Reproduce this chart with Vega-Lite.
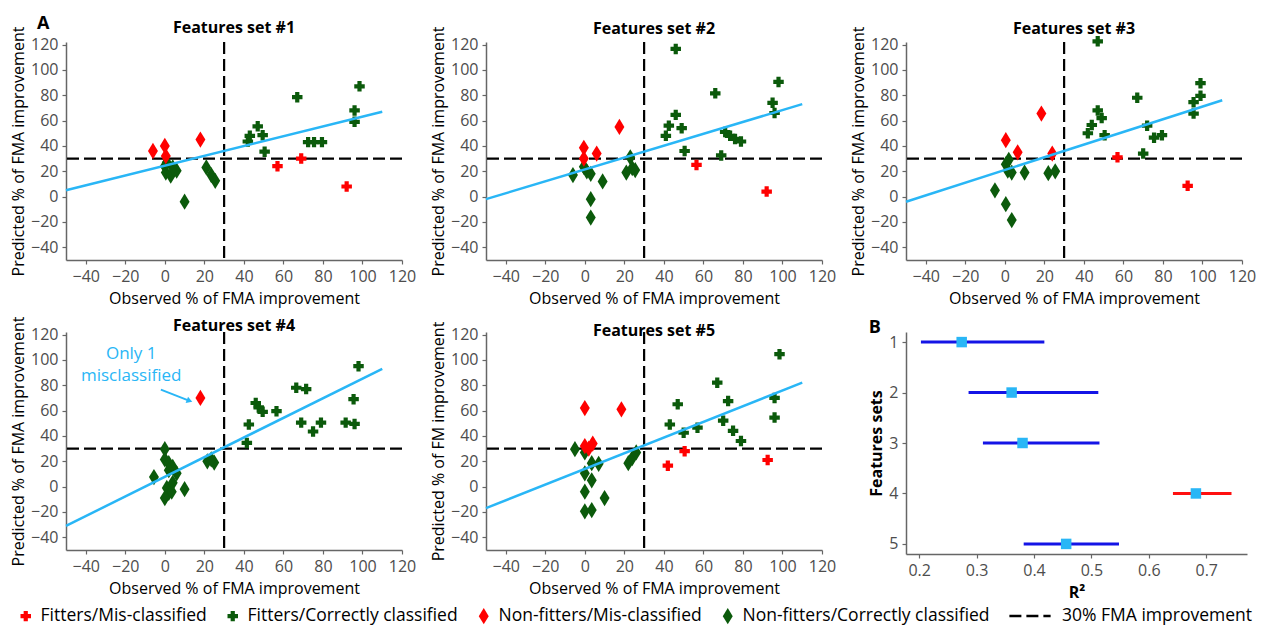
{
  "$schema": "https://vega.github.io/schema/vega-lite/v6.json",
  "padding": {"left": 10, "top": 15, "right": 10, "bottom": 0},
  "datasets": {
    "ref": [{"v": 30, "lab": "30% FMA improvement"}],
    "lbl": [{"x": -61.5, "y": 136, "t": "A"}],
    "note": [{"x": -17, "y": 105, "t": "Only 1"}, {"x": -17, "y": 87, "t": "misclassified"}],
    "arrow": [{"x": -2, "y": 76.5, "x2": 12.5, "y2": 67.7}],
    "fit": [
      {"p": 1, "x": -50, "y": 5}, {"p": 1, "x": 110, "y": 67},
      {"p": 2, "x": -50, "y": -2}, {"p": 2, "x": 110, "y": 73},
      {"p": 3, "x": -50, "y": -4}, {"p": 3, "x": 110, "y": 76},
      {"p": 4, "x": -50, "y": -31}, {"p": 4, "x": 110, "y": 93},
      {"p": 5, "x": -50, "y": -17}, {"p": 5, "x": 110, "y": 82}
    ],
    "forest": [
      {"set": 1, "r2": 0.274, "lo": 0.203, "hi": 0.418},
      {"set": 2, "r2": 0.361, "lo": 0.286, "hi": 0.512},
      {"set": 3, "r2": 0.380, "lo": 0.311, "hi": 0.514},
      {"set": 4, "r2": 0.682, "lo": 0.642, "hi": 0.744},
      {"set": 5, "r2": 0.456, "lo": 0.382, "hi": 0.548}
    ],
    "pts": [
      {"p": 1, "x": 0, "y": 24, "c": "Non-fitters/Correctly classified"},
      {"p": 1, "x": 0.5, "y": 19, "c": "Non-fitters/Correctly classified"},
      {"p": 1, "x": 3, "y": 16.5, "c": "Non-fitters/Correctly classified"},
      {"p": 1, "x": 6, "y": 20.5, "c": "Non-fitters/Correctly classified"},
      {"p": 1, "x": 4, "y": 23, "c": "Non-fitters/Correctly classified"},
      {"p": 1, "x": 1, "y": 27, "c": "Non-fitters/Correctly classified"},
      {"p": 1, "x": 10, "y": -4, "c": "Non-fitters/Correctly classified"},
      {"p": 1, "x": 21, "y": 23, "c": "Non-fitters/Correctly classified"},
      {"p": 1, "x": 23.5, "y": 17, "c": "Non-fitters/Correctly classified"},
      {"p": 1, "x": 25.5, "y": 12.5, "c": "Non-fitters/Correctly classified"},
      {"p": 1, "x": 67, "y": 78.5, "c": "Fitters/Correctly classified"},
      {"p": 1, "x": 98.5, "y": 87, "c": "Fitters/Correctly classified"},
      {"p": 1, "x": 96, "y": 68, "c": "Fitters/Correctly classified"},
      {"p": 1, "x": 96, "y": 59, "c": "Fitters/Correctly classified"},
      {"p": 1, "x": 47, "y": 55.5, "c": "Fitters/Correctly classified"},
      {"p": 1, "x": 43, "y": 48, "c": "Fitters/Correctly classified"},
      {"p": 1, "x": 42, "y": 43.5, "c": "Fitters/Correctly classified"},
      {"p": 1, "x": 49.5, "y": 48.5, "c": "Fitters/Correctly classified"},
      {"p": 1, "x": 50.5, "y": 35.5, "c": "Fitters/Correctly classified"},
      {"p": 1, "x": 72.5, "y": 43, "c": "Fitters/Correctly classified"},
      {"p": 1, "x": 75.5, "y": 43, "c": "Fitters/Correctly classified"},
      {"p": 1, "x": 79.5, "y": 43, "c": "Fitters/Correctly classified"},
      {"p": 1, "x": -6, "y": 36, "c": "Non-fitters/Mis-classified"},
      {"p": 1, "x": 0, "y": 40, "c": "Non-fitters/Mis-classified"},
      {"p": 1, "x": 0.5, "y": 32, "c": "Non-fitters/Mis-classified"},
      {"p": 1, "x": 18, "y": 45, "c": "Non-fitters/Mis-classified"},
      {"p": 1, "x": 57, "y": 24, "c": "Fitters/Mis-classified"},
      {"p": 1, "x": 69, "y": 30, "c": "Fitters/Mis-classified"},
      {"p": 1, "x": 92, "y": 8, "c": "Fitters/Mis-classified"},

      {"p": 2, "x": -6, "y": 17, "c": "Non-fitters/Correctly classified"},
      {"p": 2, "x": -0.5, "y": 23.5, "c": "Non-fitters/Correctly classified"},
      {"p": 2, "x": 1, "y": 20, "c": "Non-fitters/Correctly classified"},
      {"p": 2, "x": 3, "y": 18, "c": "Non-fitters/Correctly classified"},
      {"p": 2, "x": 9, "y": 12, "c": "Non-fitters/Correctly classified"},
      {"p": 2, "x": 3, "y": -2, "c": "Non-fitters/Correctly classified"},
      {"p": 2, "x": 3, "y": -16.5, "c": "Non-fitters/Correctly classified"},
      {"p": 2, "x": 21, "y": 19, "c": "Non-fitters/Correctly classified"},
      {"p": 2, "x": 23, "y": 31, "c": "Non-fitters/Correctly classified"},
      {"p": 2, "x": 24, "y": 22.5, "c": "Non-fitters/Correctly classified"},
      {"p": 2, "x": 25.5, "y": 21, "c": "Non-fitters/Correctly classified"},
      {"p": 2, "x": 46, "y": 116.5, "c": "Fitters/Correctly classified"},
      {"p": 2, "x": 66, "y": 81.5, "c": "Fitters/Correctly classified"},
      {"p": 2, "x": 98, "y": 90.5, "c": "Fitters/Correctly classified"},
      {"p": 2, "x": 95, "y": 74, "c": "Fitters/Correctly classified"},
      {"p": 2, "x": 96, "y": 66, "c": "Fitters/Correctly classified"},
      {"p": 2, "x": 46, "y": 64.5, "c": "Fitters/Correctly classified"},
      {"p": 2, "x": 42.5, "y": 56, "c": "Fitters/Correctly classified"},
      {"p": 2, "x": 41, "y": 48, "c": "Fitters/Correctly classified"},
      {"p": 2, "x": 49, "y": 54, "c": "Fitters/Correctly classified"},
      {"p": 2, "x": 50.5, "y": 36, "c": "Fitters/Correctly classified"},
      {"p": 2, "x": 69, "y": 32.5, "c": "Fitters/Correctly classified"},
      {"p": 2, "x": 71, "y": 51, "c": "Fitters/Correctly classified"},
      {"p": 2, "x": 73.5, "y": 48, "c": "Fitters/Correctly classified"},
      {"p": 2, "x": 76, "y": 45.5, "c": "Fitters/Correctly classified"},
      {"p": 2, "x": 79, "y": 43.5, "c": "Fitters/Correctly classified"},
      {"p": 2, "x": -0.5, "y": 38.5, "c": "Non-fitters/Mis-classified"},
      {"p": 2, "x": -0.5, "y": 30, "c": "Non-fitters/Mis-classified"},
      {"p": 2, "x": 6, "y": 34, "c": "Non-fitters/Mis-classified"},
      {"p": 2, "x": 17.5, "y": 55, "c": "Non-fitters/Mis-classified"},
      {"p": 2, "x": 56.5, "y": 25, "c": "Fitters/Mis-classified"},
      {"p": 2, "x": 92, "y": 4, "c": "Fitters/Mis-classified"},

      {"p": 3, "x": -5, "y": 5, "c": "Non-fitters/Correctly classified"},
      {"p": 3, "x": 0.5, "y": -6, "c": "Non-fitters/Correctly classified"},
      {"p": 3, "x": 3.5, "y": -18.5, "c": "Non-fitters/Correctly classified"},
      {"p": 3, "x": 0.5, "y": 25.5, "c": "Non-fitters/Correctly classified"},
      {"p": 3, "x": 1.5, "y": 20.5, "c": "Non-fitters/Correctly classified"},
      {"p": 3, "x": 3.5, "y": 19, "c": "Non-fitters/Correctly classified"},
      {"p": 3, "x": 10, "y": 19, "c": "Non-fitters/Correctly classified"},
      {"p": 3, "x": 22, "y": 18.5, "c": "Non-fitters/Correctly classified"},
      {"p": 3, "x": 25.5, "y": 20, "c": "Non-fitters/Correctly classified"},
      {"p": 3, "x": 2, "y": 29, "c": "Non-fitters/Correctly classified"},
      {"p": 3, "x": 47, "y": 122.5, "c": "Fitters/Correctly classified"},
      {"p": 3, "x": 67, "y": 78, "c": "Fitters/Correctly classified"},
      {"p": 3, "x": 99, "y": 89.5, "c": "Fitters/Correctly classified"},
      {"p": 3, "x": 99, "y": 79.5, "c": "Fitters/Correctly classified"},
      {"p": 3, "x": 95.5, "y": 74.5, "c": "Fitters/Correctly classified"},
      {"p": 3, "x": 95.5, "y": 65.5, "c": "Fitters/Correctly classified"},
      {"p": 3, "x": 47, "y": 68, "c": "Fitters/Correctly classified"},
      {"p": 3, "x": 49, "y": 62, "c": "Fitters/Correctly classified"},
      {"p": 3, "x": 44, "y": 56.5, "c": "Fitters/Correctly classified"},
      {"p": 3, "x": 42, "y": 50, "c": "Fitters/Correctly classified"},
      {"p": 3, "x": 50.5, "y": 48.5, "c": "Fitters/Correctly classified"},
      {"p": 3, "x": 72, "y": 56, "c": "Fitters/Correctly classified"},
      {"p": 3, "x": 75.5, "y": 46.5, "c": "Fitters/Correctly classified"},
      {"p": 3, "x": 79.5, "y": 48.5, "c": "Fitters/Correctly classified"},
      {"p": 3, "x": 70, "y": 34, "c": "Fitters/Correctly classified"},
      {"p": 3, "x": 0.5, "y": 44.5, "c": "Non-fitters/Mis-classified"},
      {"p": 3, "x": 6.5, "y": 35, "c": "Non-fitters/Mis-classified"},
      {"p": 3, "x": 18.5, "y": 65.5, "c": "Non-fitters/Mis-classified"},
      {"p": 3, "x": 24, "y": 34, "c": "Non-fitters/Mis-classified"},
      {"p": 3, "x": 57, "y": 31, "c": "Fitters/Mis-classified"},
      {"p": 3, "x": 92.5, "y": 8.5, "c": "Fitters/Mis-classified"},

      {"p": 4, "x": 0, "y": 29.5, "c": "Non-fitters/Correctly classified"},
      {"p": 4, "x": 0, "y": 21.5, "c": "Non-fitters/Correctly classified"},
      {"p": 4, "x": 2, "y": 18.5, "c": "Non-fitters/Correctly classified"},
      {"p": 4, "x": 4, "y": 15.5, "c": "Non-fitters/Correctly classified"},
      {"p": 4, "x": 6, "y": 10.5, "c": "Non-fitters/Correctly classified"},
      {"p": 4, "x": -5.5, "y": 7.5, "c": "Non-fitters/Correctly classified"},
      {"p": 4, "x": 1, "y": -1, "c": "Non-fitters/Correctly classified"},
      {"p": 4, "x": 2, "y": -5, "c": "Non-fitters/Correctly classified"},
      {"p": 4, "x": 0, "y": -9, "c": "Non-fitters/Correctly classified"},
      {"p": 4, "x": 3.5, "y": -4, "c": "Non-fitters/Correctly classified"},
      {"p": 4, "x": 4, "y": 3, "c": "Non-fitters/Correctly classified"},
      {"p": 4, "x": 10, "y": -2, "c": "Non-fitters/Correctly classified"},
      {"p": 4, "x": 21.5, "y": 20, "c": "Non-fitters/Correctly classified"},
      {"p": 4, "x": 25, "y": 19, "c": "Non-fitters/Correctly classified"},
      {"p": 4, "x": 23.5, "y": 21.5, "c": "Non-fitters/Correctly classified"},
      {"p": 4, "x": 2, "y": 13, "c": "Non-fitters/Correctly classified"},
      {"p": 4, "x": 98, "y": 95, "c": "Fitters/Correctly classified"},
      {"p": 4, "x": 66.5, "y": 78, "c": "Fitters/Correctly classified"},
      {"p": 4, "x": 71.5, "y": 77, "c": "Fitters/Correctly classified"},
      {"p": 4, "x": 95.5, "y": 69, "c": "Fitters/Correctly classified"},
      {"p": 4, "x": 46, "y": 66, "c": "Fitters/Correctly classified"},
      {"p": 4, "x": 47.5, "y": 62.5, "c": "Fitters/Correctly classified"},
      {"p": 4, "x": 49.5, "y": 59, "c": "Fitters/Correctly classified"},
      {"p": 4, "x": 56.5, "y": 59.5, "c": "Fitters/Correctly classified"},
      {"p": 4, "x": 42.5, "y": 49, "c": "Fitters/Correctly classified"},
      {"p": 4, "x": 41.5, "y": 34.5, "c": "Fitters/Correctly classified"},
      {"p": 4, "x": 69, "y": 50.5, "c": "Fitters/Correctly classified"},
      {"p": 4, "x": 75, "y": 43.5, "c": "Fitters/Correctly classified"},
      {"p": 4, "x": 79, "y": 50.5, "c": "Fitters/Correctly classified"},
      {"p": 4, "x": 91.5, "y": 50.5, "c": "Fitters/Correctly classified"},
      {"p": 4, "x": 96, "y": 49.5, "c": "Fitters/Correctly classified"},
      {"p": 4, "x": 18, "y": 70, "c": "Non-fitters/Mis-classified"},

      {"p": 5, "x": -5, "y": 29.5, "c": "Non-fitters/Correctly classified"},
      {"p": 5, "x": 0, "y": 27, "c": "Non-fitters/Correctly classified"},
      {"p": 5, "x": 3.5, "y": 18.5, "c": "Non-fitters/Correctly classified"},
      {"p": 5, "x": 7, "y": 18, "c": "Non-fitters/Correctly classified"},
      {"p": 5, "x": 0, "y": 10.5, "c": "Non-fitters/Correctly classified"},
      {"p": 5, "x": 3.5, "y": 5, "c": "Non-fitters/Correctly classified"},
      {"p": 5, "x": 0, "y": -4, "c": "Non-fitters/Correctly classified"},
      {"p": 5, "x": 10, "y": -9, "c": "Non-fitters/Correctly classified"},
      {"p": 5, "x": 0, "y": -19.5, "c": "Non-fitters/Correctly classified"},
      {"p": 5, "x": 3.5, "y": -18.5, "c": "Non-fitters/Correctly classified"},
      {"p": 5, "x": 22, "y": 18.5, "c": "Non-fitters/Correctly classified"},
      {"p": 5, "x": 24, "y": 22.5, "c": "Non-fitters/Correctly classified"},
      {"p": 5, "x": 26, "y": 27, "c": "Non-fitters/Correctly classified"},
      {"p": 5, "x": 98.5, "y": 104.5, "c": "Fitters/Correctly classified"},
      {"p": 5, "x": 67, "y": 82, "c": "Fitters/Correctly classified"},
      {"p": 5, "x": 72.5, "y": 67.5, "c": "Fitters/Correctly classified"},
      {"p": 5, "x": 96, "y": 70, "c": "Fitters/Correctly classified"},
      {"p": 5, "x": 96, "y": 54.5, "c": "Fitters/Correctly classified"},
      {"p": 5, "x": 47, "y": 65, "c": "Fitters/Correctly classified"},
      {"p": 5, "x": 43, "y": 49, "c": "Fitters/Correctly classified"},
      {"p": 5, "x": 50, "y": 42.5, "c": "Fitters/Correctly classified"},
      {"p": 5, "x": 57, "y": 46.5, "c": "Fitters/Correctly classified"},
      {"p": 5, "x": 70, "y": 52, "c": "Fitters/Correctly classified"},
      {"p": 5, "x": 75, "y": 44, "c": "Fitters/Correctly classified"},
      {"p": 5, "x": 79, "y": 36, "c": "Fitters/Correctly classified"},
      {"p": 5, "x": 0, "y": 62, "c": "Non-fitters/Mis-classified"},
      {"p": 5, "x": 18.5, "y": 61, "c": "Non-fitters/Mis-classified"},
      {"p": 5, "x": 0, "y": 32, "c": "Non-fitters/Mis-classified"},
      {"p": 5, "x": 4, "y": 34, "c": "Non-fitters/Mis-classified"},
      {"p": 5, "x": 2, "y": 30, "c": "Non-fitters/Mis-classified"},
      {"p": 5, "x": 42, "y": 16.5, "c": "Fitters/Mis-classified"},
      {"p": 5, "x": 50.5, "y": 28, "c": "Fitters/Mis-classified"},
      {"p": 5, "x": 92.5, "y": 21, "c": "Fitters/Mis-classified"}
    ]
  },
  "columns": 3,
  "bounds": "flush",
  "spacing": {"row": 72, "column": 84},
  "resolve": {"scale": {"color": "shared", "shape": "shared", "strokeDash": "shared"}, "legend": {"color": "shared", "shape": "shared", "strokeDash": "shared"}},
  "concat": [
    {
      "width": 336, "height": 218, "title": {"text": "Features set #1", "dy": 27},
      "layer": [
        {"data": {"name": "ref"}, "mark": {"type": "rule", "color": "black", "strokeWidth": 2.2, "strokeDash": [12, 5]},
         "encoding": {"x": {"field": "v", "type": "quantitative", "scale": {"domain": [-50, 120], "nice": false, "zero": false}, "axis": {"values": [-40, -20, 0, 20, 40, 60, 80, 100, 120], "title": "Observed % of FMA improvement"}}}},
        {"data": {"name": "ref"}, "mark": {"type": "rule", "color": "black", "strokeWidth": 2.2},
         "encoding": {"y": {"field": "v", "type": "quantitative", "scale": {"domain": [-50, 122], "nice": false, "zero": false}, "axis": {"values": [-40, -20, 0, 20, 40, 60, 80, 100, 120], "title": "Predicted % of FMA improvement"}},
                      "strokeDash": {"field": "lab", "type": "nominal", "scale": {"range": [[12, 5]]}, "legend": {"title": null, "orient": "none", "legendX": 942, "legendY": 552, "direction": "horizontal", "labelOffset": 10, "symbolType": "stroke", "symbolSize": 1700, "symbolStrokeWidth": 2.5, "symbolStrokeColor": "black"}}}},
        {"data": {"name": "pts"}, "transform": [{"filter": "datum.p == 1"}], "mark": {"type": "point", "filled": true, "size": 110, "opacity": 1},
         "encoding": {
           "x": {"field": "x", "type": "quantitative", "scale": {"domain": [-50, 120], "nice": false, "zero": false}, "axis": {"values": [-40, -20, 0, 20, 40, 60, 80, 100, 120], "title": "Observed % of FMA improvement"}},
           "y": {"field": "y", "type": "quantitative", "scale": {"domain": [-50, 122], "nice": false, "zero": false}, "axis": {"values": [-40, -20, 0, 20, 40, 60, 80, 100, 120], "title": "Predicted % of FMA improvement"}},
           "color": {"field": "c", "type": "nominal", "scale": {"domain": ["Fitters/Mis-classified", "Fitters/Correctly classified", "Non-fitters/Mis-classified", "Non-fitters/Correctly classified"], "range": ["#FF0000", "#0B5A0B", "#FF0000", "#0B5A0B"]}, "legend": {"title": null, "orient": "none", "legendX": -49, "legendY": 565, "direction": "horizontal"}},
           "shape": {"field": "c", "type": "nominal", "scale": {"domain": ["Fitters/Mis-classified", "Fitters/Correctly classified", "Non-fitters/Mis-classified", "Non-fitters/Correctly classified"], "range": ["cross", "cross", "M0,-1.55L0.95,0L0,1.55L-0.95,0Z", "M0,-1.55L0.95,0L0,1.55L-0.95,0Z"]}, "legend": {"title": null, "orient": "none", "legendX": -49, "legendY": 565, "direction": "horizontal"}}
         }},
        {"data": {"name": "fit"}, "transform": [{"filter": "datum.p == 1"}], "mark": {"type": "line", "color": "#29B6F6", "strokeWidth": 2.5},
         "encoding": {"x": {"field": "x", "type": "quantitative", "scale": {"domain": [-50, 120], "nice": false, "zero": false}, "axis": {"values": [-40, -20, 0, 20, 40, 60, 80, 100, 120], "title": "Observed % of FMA improvement"}},
                      "y": {"field": "y", "type": "quantitative", "scale": {"domain": [-50, 122], "nice": false, "zero": false}, "axis": {"values": [-40, -20, 0, 20, 40, 60, 80, 100, 120], "title": "Predicted % of FMA improvement"}}}},
        {"data": {"name": "lbl"}, "mark": {"type": "text", "fontSize": 18, "fontWeight": "bold", "color": "black"},
         "encoding": {"x": {"field": "x", "type": "quantitative", "scale": {"domain": [-50, 120], "nice": false, "zero": false}, "axis": {"values": [-40, -20, 0, 20, 40, 60, 80, 100, 120], "title": "Observed % of FMA improvement"}},
                      "y": {"field": "y", "type": "quantitative", "scale": {"domain": [-50, 122], "nice": false, "zero": false}, "axis": {"values": [-40, -20, 0, 20, 40, 60, 80, 100, 120], "title": "Predicted % of FMA improvement"}},
                      "text": {"field": "t"}}}
      ]
    },
    {
      "width": 336, "height": 218, "title": {"text": "Features set #2", "dy": 17},
      "layer": [
        {"data": {"name": "ref"}, "mark": {"type": "rule", "color": "black", "strokeWidth": 2.2, "strokeDash": [12, 5]},
         "encoding": {"x": {"field": "v", "type": "quantitative", "scale": {"domain": [-50, 120], "nice": false, "zero": false}, "axis": {"values": [-40, -20, 0, 20, 40, 60, 80, 100, 120], "title": "Observed % of FMA improvement"}}}},
        {"data": {"name": "ref"}, "mark": {"type": "rule", "color": "black", "strokeWidth": 2.2, "strokeDash": [12, 5]},
         "encoding": {"y": {"field": "v", "type": "quantitative", "scale": {"domain": [-50, 122], "nice": false, "zero": false}, "axis": {"values": [-40, -20, 0, 20, 40, 60, 80, 100, 120], "title": "Predicted % of FMA improvement"}}}},
        {"data": {"name": "pts"}, "transform": [{"filter": "datum.p == 2"}], "mark": {"type": "point", "filled": true, "size": 110, "opacity": 1},
         "encoding": {
           "x": {"field": "x", "type": "quantitative", "scale": {"domain": [-50, 120], "nice": false, "zero": false}, "axis": {"values": [-40, -20, 0, 20, 40, 60, 80, 100, 120], "title": "Observed % of FMA improvement"}},
           "y": {"field": "y", "type": "quantitative", "scale": {"domain": [-50, 122], "nice": false, "zero": false}, "axis": {"values": [-40, -20, 0, 20, 40, 60, 80, 100, 120], "title": "Predicted % of FMA improvement"}},
           "color": {"field": "c", "type": "nominal", "scale": {"domain": ["Fitters/Mis-classified", "Fitters/Correctly classified", "Non-fitters/Mis-classified", "Non-fitters/Correctly classified"], "range": ["#FF0000", "#0B5A0B", "#FF0000", "#0B5A0B"]}, "legend": {"title": null, "orient": "none", "legendX": -49, "legendY": 565, "direction": "horizontal"}},
           "shape": {"field": "c", "type": "nominal", "scale": {"domain": ["Fitters/Mis-classified", "Fitters/Correctly classified", "Non-fitters/Mis-classified", "Non-fitters/Correctly classified"], "range": ["cross", "cross", "M0,-1.55L0.95,0L0,1.55L-0.95,0Z", "M0,-1.55L0.95,0L0,1.55L-0.95,0Z"]}, "legend": {"title": null, "orient": "none", "legendX": -49, "legendY": 565, "direction": "horizontal"}}
         }},
        {"data": {"name": "fit"}, "transform": [{"filter": "datum.p == 2"}], "mark": {"type": "line", "color": "#29B6F6", "strokeWidth": 2.5},
         "encoding": {"x": {"field": "x", "type": "quantitative", "scale": {"domain": [-50, 120], "nice": false, "zero": false}, "axis": {"values": [-40, -20, 0, 20, 40, 60, 80, 100, 120], "title": "Observed % of FMA improvement"}},
                      "y": {"field": "y", "type": "quantitative", "scale": {"domain": [-50, 122], "nice": false, "zero": false}, "axis": {"values": [-40, -20, 0, 20, 40, 60, 80, 100, 120], "title": "Predicted % of FMA improvement"}}}}
      ]
    },
    {
      "width": 336, "height": 218, "title": {"text": "Features set #3", "dy": 17},
      "layer": [
        {"data": {"name": "ref"}, "mark": {"type": "rule", "color": "black", "strokeWidth": 2.2, "strokeDash": [12, 5]},
         "encoding": {"x": {"field": "v", "type": "quantitative", "scale": {"domain": [-50, 120], "nice": false, "zero": false}, "axis": {"values": [-40, -20, 0, 20, 40, 60, 80, 100, 120], "title": "Observed % of FMA improvement"}}}},
        {"data": {"name": "ref"}, "mark": {"type": "rule", "color": "black", "strokeWidth": 2.2, "strokeDash": [12, 5]},
         "encoding": {"y": {"field": "v", "type": "quantitative", "scale": {"domain": [-50, 122], "nice": false, "zero": false}, "axis": {"values": [-40, -20, 0, 20, 40, 60, 80, 100, 120], "title": "Predicted % of FMA improvement"}}}},
        {"data": {"name": "pts"}, "transform": [{"filter": "datum.p == 3"}], "mark": {"type": "point", "filled": true, "size": 110, "opacity": 1},
         "encoding": {
           "x": {"field": "x", "type": "quantitative", "scale": {"domain": [-50, 120], "nice": false, "zero": false}, "axis": {"values": [-40, -20, 0, 20, 40, 60, 80, 100, 120], "title": "Observed % of FMA improvement"}},
           "y": {"field": "y", "type": "quantitative", "scale": {"domain": [-50, 122], "nice": false, "zero": false}, "axis": {"values": [-40, -20, 0, 20, 40, 60, 80, 100, 120], "title": "Predicted % of FMA improvement"}},
           "color": {"field": "c", "type": "nominal", "scale": {"domain": ["Fitters/Mis-classified", "Fitters/Correctly classified", "Non-fitters/Mis-classified", "Non-fitters/Correctly classified"], "range": ["#FF0000", "#0B5A0B", "#FF0000", "#0B5A0B"]}, "legend": {"title": null, "orient": "none", "legendX": -49, "legendY": 565, "direction": "horizontal"}},
           "shape": {"field": "c", "type": "nominal", "scale": {"domain": ["Fitters/Mis-classified", "Fitters/Correctly classified", "Non-fitters/Mis-classified", "Non-fitters/Correctly classified"], "range": ["cross", "cross", "M0,-1.55L0.95,0L0,1.55L-0.95,0Z", "M0,-1.55L0.95,0L0,1.55L-0.95,0Z"]}, "legend": {"title": null, "orient": "none", "legendX": -49, "legendY": 565, "direction": "horizontal"}}
         }},
        {"data": {"name": "fit"}, "transform": [{"filter": "datum.p == 3"}], "mark": {"type": "line", "color": "#29B6F6", "strokeWidth": 2.5},
         "encoding": {"x": {"field": "x", "type": "quantitative", "scale": {"domain": [-50, 120], "nice": false, "zero": false}, "axis": {"values": [-40, -20, 0, 20, 40, 60, 80, 100, 120], "title": "Observed % of FMA improvement"}},
                      "y": {"field": "y", "type": "quantitative", "scale": {"domain": [-50, 122], "nice": false, "zero": false}, "axis": {"values": [-40, -20, 0, 20, 40, 60, 80, 100, 120], "title": "Predicted % of FMA improvement"}}}}
      ]
    },
    {
      "width": 336, "height": 218, "title": {"text": "Features set #4", "dy": 24},
      "layer": [
        {"data": {"name": "ref"}, "mark": {"type": "rule", "color": "black", "strokeWidth": 2.2, "strokeDash": [12, 5]},
         "encoding": {"x": {"field": "v", "type": "quantitative", "scale": {"domain": [-50, 120], "nice": false, "zero": false}, "axis": {"values": [-40, -20, 0, 20, 40, 60, 80, 100, 120], "title": "Observed % of FMA improvement"}}}},
        {"data": {"name": "ref"}, "mark": {"type": "rule", "color": "black", "strokeWidth": 2.2, "strokeDash": [12, 5]},
         "encoding": {"y": {"field": "v", "type": "quantitative", "scale": {"domain": [-50, 122], "nice": false, "zero": false}, "axis": {"values": [-40, -20, 0, 20, 40, 60, 80, 100, 120], "title": "Predicted % of FMA improvement"}}}},
        {"data": {"name": "pts"}, "transform": [{"filter": "datum.p == 4"}], "mark": {"type": "point", "filled": true, "size": 110, "opacity": 1},
         "encoding": {
           "x": {"field": "x", "type": "quantitative", "scale": {"domain": [-50, 120], "nice": false, "zero": false}, "axis": {"values": [-40, -20, 0, 20, 40, 60, 80, 100, 120], "title": "Observed % of FMA improvement"}},
           "y": {"field": "y", "type": "quantitative", "scale": {"domain": [-50, 122], "nice": false, "zero": false}, "axis": {"values": [-40, -20, 0, 20, 40, 60, 80, 100, 120], "title": "Predicted % of FMA improvement"}},
           "color": {"field": "c", "type": "nominal", "scale": {"domain": ["Fitters/Mis-classified", "Fitters/Correctly classified", "Non-fitters/Mis-classified", "Non-fitters/Correctly classified"], "range": ["#FF0000", "#0B5A0B", "#FF0000", "#0B5A0B"]}, "legend": {"title": null, "orient": "none", "legendX": -49, "legendY": 565, "direction": "horizontal"}},
           "shape": {"field": "c", "type": "nominal", "scale": {"domain": ["Fitters/Mis-classified", "Fitters/Correctly classified", "Non-fitters/Mis-classified", "Non-fitters/Correctly classified"], "range": ["cross", "cross", "M0,-1.55L0.95,0L0,1.55L-0.95,0Z", "M0,-1.55L0.95,0L0,1.55L-0.95,0Z"]}, "legend": {"title": null, "orient": "none", "legendX": -49, "legendY": 565, "direction": "horizontal"}}
         }},
        {"data": {"name": "fit"}, "transform": [{"filter": "datum.p == 4"}], "mark": {"type": "line", "color": "#29B6F6", "strokeWidth": 2.5},
         "encoding": {"x": {"field": "x", "type": "quantitative", "scale": {"domain": [-50, 120], "nice": false, "zero": false}, "axis": {"values": [-40, -20, 0, 20, 40, 60, 80, 100, 120], "title": "Observed % of FMA improvement"}},
                      "y": {"field": "y", "type": "quantitative", "scale": {"domain": [-50, 122], "nice": false, "zero": false}, "axis": {"values": [-40, -20, 0, 20, 40, 60, 80, 100, 120], "title": "Predicted % of FMA improvement"}}}},
        {"data": {"name": "note"}, "mark": {"type": "text", "fontSize": 17, "color": "#29B6F6"},
         "encoding": {"x": {"field": "x", "type": "quantitative", "scale": {"domain": [-50, 120], "nice": false, "zero": false}, "axis": {"values": [-40, -20, 0, 20, 40, 60, 80, 100, 120], "title": "Observed % of FMA improvement"}},
                      "y": {"field": "y", "type": "quantitative", "scale": {"domain": [-50, 122], "nice": false, "zero": false}, "axis": {"values": [-40, -20, 0, 20, 40, 60, 80, 100, 120], "title": "Predicted % of FMA improvement"}},
                      "text": {"field": "t"}}},
        {"data": {"name": "arrow"}, "mark": {"type": "rule", "color": "#29B6F6", "strokeWidth": 2},
         "encoding": {"x": {"field": "x", "type": "quantitative", "scale": {"domain": [-50, 120], "nice": false, "zero": false}, "axis": {"values": [-40, -20, 0, 20, 40, 60, 80, 100, 120], "title": "Observed % of FMA improvement"}},
                      "y": {"field": "y", "type": "quantitative", "scale": {"domain": [-50, 122], "nice": false, "zero": false}, "axis": {"values": [-40, -20, 0, 20, 40, 60, 80, 100, 120], "title": "Predicted % of FMA improvement"}},
                      "x2": {"field": "x2"}, "y2": {"field": "y2"}}},
        {"data": {"name": "arrow"}, "mark": {"type": "point", "shape": "triangle-right", "filled": true, "size": 45, "angle": 21, "color": "#29B6F6", "opacity": 1},
         "encoding": {"x": {"field": "x2", "type": "quantitative", "scale": {"domain": [-50, 120], "nice": false, "zero": false}, "axis": {"values": [-40, -20, 0, 20, 40, 60, 80, 100, 120], "title": "Observed % of FMA improvement"}},
                      "y": {"field": "y2", "type": "quantitative", "scale": {"domain": [-50, 122], "nice": false, "zero": false}, "axis": {"values": [-40, -20, 0, 20, 40, 60, 80, 100, 120], "title": "Predicted % of FMA improvement"}}}}
      ]
    },
    {
      "width": 336, "height": 218, "title": {"text": "Features set #5", "dy": 24},
      "layer": [
        {"data": {"name": "ref"}, "mark": {"type": "rule", "color": "black", "strokeWidth": 2.2, "strokeDash": [12, 5]},
         "encoding": {"x": {"field": "v", "type": "quantitative", "scale": {"domain": [-50, 120], "nice": false, "zero": false}, "axis": {"values": [-40, -20, 0, 20, 40, 60, 80, 100, 120], "title": "Observed % of FMA improvement"}}}},
        {"data": {"name": "ref"}, "mark": {"type": "rule", "color": "black", "strokeWidth": 2.2, "strokeDash": [12, 5]},
         "encoding": {"y": {"field": "v", "type": "quantitative", "scale": {"domain": [-50, 122], "nice": false, "zero": false}, "axis": {"values": [-40, -20, 0, 20, 40, 60, 80, 100, 120], "title": "Predicted % of FM improvement"}}}},
        {"data": {"name": "pts"}, "transform": [{"filter": "datum.p == 5"}], "mark": {"type": "point", "filled": true, "size": 110, "opacity": 1},
         "encoding": {
           "x": {"field": "x", "type": "quantitative", "scale": {"domain": [-50, 120], "nice": false, "zero": false}, "axis": {"values": [-40, -20, 0, 20, 40, 60, 80, 100, 120], "title": "Observed % of FMA improvement"}},
           "y": {"field": "y", "type": "quantitative", "scale": {"domain": [-50, 122], "nice": false, "zero": false}, "axis": {"values": [-40, -20, 0, 20, 40, 60, 80, 100, 120], "title": "Predicted % of FM improvement"}},
           "color": {"field": "c", "type": "nominal", "scale": {"domain": ["Fitters/Mis-classified", "Fitters/Correctly classified", "Non-fitters/Mis-classified", "Non-fitters/Correctly classified"], "range": ["#FF0000", "#0B5A0B", "#FF0000", "#0B5A0B"]}, "legend": {"title": null, "orient": "none", "legendX": -49, "legendY": 565, "direction": "horizontal"}},
           "shape": {"field": "c", "type": "nominal", "scale": {"domain": ["Fitters/Mis-classified", "Fitters/Correctly classified", "Non-fitters/Mis-classified", "Non-fitters/Correctly classified"], "range": ["cross", "cross", "M0,-1.55L0.95,0L0,1.55L-0.95,0Z", "M0,-1.55L0.95,0L0,1.55L-0.95,0Z"]}, "legend": {"title": null, "orient": "none", "legendX": -49, "legendY": 565, "direction": "horizontal"}}
         }},
        {"data": {"name": "fit"}, "transform": [{"filter": "datum.p == 5"}], "mark": {"type": "line", "color": "#29B6F6", "strokeWidth": 2.5},
         "encoding": {"x": {"field": "x", "type": "quantitative", "scale": {"domain": [-50, 120], "nice": false, "zero": false}, "axis": {"values": [-40, -20, 0, 20, 40, 60, 80, 100, 120], "title": "Observed % of FMA improvement"}},
                      "y": {"field": "y", "type": "quantitative", "scale": {"domain": [-50, 122], "nice": false, "zero": false}, "axis": {"values": [-40, -20, 0, 20, 40, 60, 80, 100, 120], "title": "Predicted % of FM improvement"}}}}
      ]
    },
    {
      "width": 341, "height": 222,
      "title": {"text": "B", "anchor": "start", "frame": "bounds", "fontSize": 18, "offset": 2, "dy": 7},
      "data": {"name": "forest"},
      "layer": [
        {"mark": {"type": "rule", "strokeWidth": 3},
         "encoding": {
           "y": {"field": "set", "type": "ordinal", "scale": {"type": "point", "padding": 0.2}, "axis": {"title": "Features sets", "titleFontWeight": "bold", "labelAngle": 0}},
           "x": {"field": "lo", "type": "quantitative", "scale": {"domain": [0.177, 0.771], "nice": false, "zero": false}, "axis": {"values": [0.2, 0.3, 0.4, 0.5, 0.6, 0.7], "format": ".1f", "title": "R²", "titleFontWeight": "bold"}},
           "x2": {"field": "hi"},
           "color": {"condition": {"test": "datum.set === 4", "value": "#FF1010"}, "value": "#1414E6"}
         }},
        {"mark": {"type": "point", "shape": "square", "filled": true, "size": 110, "color": "#29B6F6", "opacity": 1},
         "encoding": {
           "y": {"field": "set", "type": "ordinal", "scale": {"type": "point", "padding": 0.2}, "axis": {"title": "Features sets", "titleFontWeight": "bold", "labelAngle": 0}},
           "x": {"field": "r2", "type": "quantitative", "scale": {"domain": [0.177, 0.771], "nice": false, "zero": false}, "axis": {"values": [0.2, 0.3, 0.4, 0.5, 0.6, 0.7], "format": ".1f", "title": "R²", "titleFontWeight": "bold"}}
         }}
      ]
    }
  ],
  "config": {
    "font": "Open Sans",
    "view": {"stroke": null},
    "axis": {"grid": false, "labelFontSize": 16, "labelColor": "#4D4D4D", "labelOverlap": false, "labelBound": false, "labelFlush": false, "titleFontSize": 16, "titleFontWeight": "normal", "titleColor": "#000000", "domainColor": "#666666", "tickColor": "#666666", "domainWidth": 1.5, "tickWidth": 1.2, "tickSize": 4, "labelPadding": 4, "titlePadding": 4, "labelFont": "Open Sans", "titleFont": "Open Sans"},
    "axisX": {"titlePadding": 6},
    "title": {"fontSize": 16, "fontWeight": "bold", "offset": 6, "font": "Open Sans", "color": "#000000"},
    "legend": {"labelFontSize": 17.5, "labelFont": "Open Sans", "labelColor": "#000000", "symbolSize": 110, "columnPadding": 17, "labelOffset": 6, "labelLimit": 400, "symbolStrokeWidth": 0, "padding": 0}
  }
}
